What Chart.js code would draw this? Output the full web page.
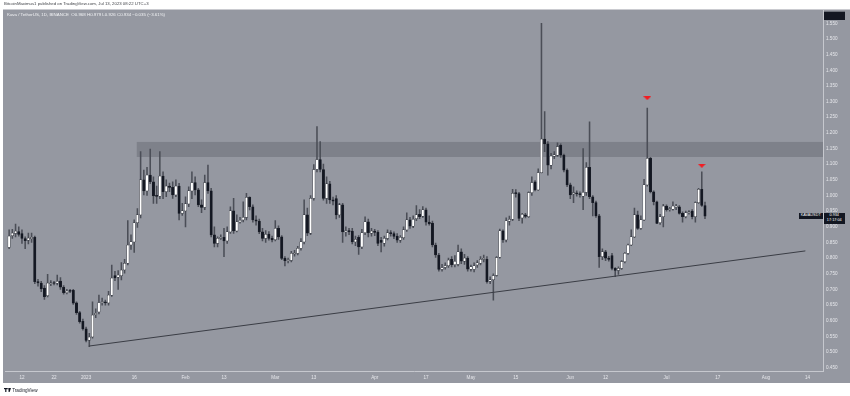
<!DOCTYPE html>
<html><head><meta charset="utf-8">
<script src="https://cdn.jsdelivr.net/npm/chart.js@4.4.0/dist/chart.umd.min.js"></script>
<style>
html,body{margin:0;padding:0;background:#fff;width:850px;height:396px;overflow:hidden;font-family:"Liberation Sans",Arial,sans-serif;}
#wrap{position:relative;width:850px;height:396px;}
#c{position:absolute;left:0;top:0;}
.t{position:absolute;white-space:nowrap;line-height:1;}
.tag{position:absolute;background:#131722;color:#fff;font-size:3.8px;text-align:center;line-height:1.15;}
</style></head><body>
<div id="wrap">
<canvas id="c" width="850" height="396"></canvas>
<div class="t" style="left:4px;top:2px;font-size:4.3px;color:#3d3f45">BitcoinMaximus1 published on TradingView.com, Jul 13, 2023 08:22 UTC+3</div>
<div class="t" style="left:7px;top:13px;font-size:4.4px;color:#f2f3f5">Kava / TetherUS, 1D, BINANCE&nbsp;&nbsp;O0.968&nbsp;H0.979&nbsp;L0.926&nbsp;C0.934&nbsp;−0.035 (−3.61%)</div>
<div class="tag" id="symTag" style="left:799px;width:23.5px;height:6.6px;">KAVAUSDT</div>
<div class="tag" id="priceTag" style="left:823.5px;width:21.5px;height:11.6px;padding-top:0.6px;box-sizing:border-box;">0.934<br>17:17:04</div>
<div class="t" style="left:4px;top:387.5px;font-size:4.6px;color:#131722">
<svg width="7" height="4" viewBox="0 0 7 4" style="vertical-align:-0.5px"><rect x="0" y="0" width="3" height="1.2" fill="#131722"/><rect x="1.2" y="0" width="1.2" height="4" fill="#131722"/><circle cx="3.7" cy="0.7" r="0.6" fill="#131722"/><path d="M4.4 0 L7 0 L5.6 4 L4.6 4 Z" fill="#131722"/></svg> TradingView</div>
</div>
<script>
// ---- data (daily candles, Kava / TetherUS, from 2022-12-08) ----
const startDate = '2022-12-08';
const opens = [
0.834,0.872,0.879,0.885,0.878,0.862,0.857,0.862,0.866,0.725,
0.720,0.704,0.680,0.718,0.721,0.720,0.727,0.707,0.690,0.697,
0.697,0.657,0.626,0.598,0.574,0.538,0.548,0.619,0.628,0.658,
0.660,0.657,0.682,0.744,0.739,0.744,0.762,0.784,0.842,0.852,
0.913,0.938,1.050,1.015,1.065,1.044,0.999,0.998,1.062,1.012,
1.030,1.026,1.002,1.030,0.943,0.951,0.973,1.015,1.041,1.018,
0.970,0.962,1.041,1.015,0.874,0.847,0.863,0.866,0.855,0.884,
0.951,0.887,0.916,0.922,0.930,0.994,0.964,0.922,0.918,0.884,
0.863,0.877,0.863,0.859,0.895,0.868,0.799,0.792,0.793,0.813,
0.815,0.831,0.852,0.938,0.880,0.991,1.083,1.115,1.083,0.991,
1.037,0.986,0.990,0.938,0.970,0.884,0.888,0.886,0.852,0.866,
0.836,0.881,0.916,0.880,0.886,0.882,0.857,0.848,0.863,0.881,
0.878,0.870,0.857,0.865,0.890,0.922,0.902,0.926,0.940,0.934,
0.954,0.915,0.912,0.842,0.810,0.764,0.770,0.776,0.796,0.779,
0.780,0.820,0.790,0.800,0.765,0.764,0.778,0.784,0.796,0.796,
0.726,0.731,0.745,0.803,0.887,0.858,0.918,0.924,1.007,1.006,
0.928,0.938,0.932,1.009,1.044,1.018,1.073,1.180,1.165,1.097,
1.126,1.129,1.160,1.129,1.081,1.034,1.005,1.008,1.005,0.998,
1.010,1.090,0.996,0.977,0.935,0.805,0.820,0.800,0.808,0.767,
0.761,0.767,0.789,0.815,0.842,0.868,0.938,0.895,0.922,1.034,
1.119,1.012,0.980,0.913,0.932,0.966,0.955,0.956,0.962,0.964,
0.943,0.932,0.945,0.950,0.932,0.977,1.020,0.968];
const highs = [
0.890,0.892,0.909,0.900,0.890,0.868,0.880,0.880,0.870,0.732,
0.726,0.712,0.748,0.728,0.726,0.746,0.738,0.712,0.700,0.700,
0.700,0.660,0.630,0.605,0.580,0.560,0.660,0.638,0.682,0.672,
0.666,0.694,0.778,0.758,0.760,0.786,0.796,0.920,0.874,0.922,
0.958,1.140,1.081,1.090,1.148,1.060,1.030,1.140,1.076,1.050,
1.040,1.044,1.050,1.039,0.975,0.996,1.028,1.076,1.060,1.023,
0.986,1.065,1.097,1.023,0.900,0.868,0.874,0.895,0.900,0.964,
0.991,0.938,0.930,0.980,1.007,0.996,0.970,0.935,0.925,0.895,
0.888,0.885,0.870,0.920,0.903,0.872,0.805,0.800,0.822,0.825,
0.838,0.862,0.986,0.960,1.000,1.099,1.220,1.172,1.100,1.060,
1.045,0.995,1.000,0.975,0.975,0.900,0.895,0.895,0.870,0.872,
0.892,0.932,0.925,0.895,0.892,0.888,0.866,0.870,0.890,0.888,
0.884,0.878,0.872,0.900,0.945,0.930,0.935,0.968,0.955,0.965,
0.960,0.935,0.918,0.848,0.815,0.780,0.785,0.800,0.805,0.808,
0.842,0.830,0.812,0.805,0.778,0.785,0.792,0.805,0.810,0.805,
0.740,0.750,0.805,0.893,0.890,0.929,0.934,1.020,1.019,1.010,
0.943,0.943,1.012,1.060,1.048,1.085,1.550,1.268,1.172,1.135,
1.140,1.168,1.165,1.132,1.085,1.040,1.028,1.015,1.012,1.150,
1.105,1.235,1.000,0.982,0.940,0.830,0.825,0.806,0.815,0.770,
0.772,0.792,0.818,0.845,0.890,0.960,0.950,0.935,1.052,1.279,
1.122,1.015,0.982,0.940,0.972,0.970,0.962,0.980,0.972,0.968,
0.948,0.950,0.952,0.955,0.980,1.023,1.076,0.979];
const lows = [
0.830,0.863,0.868,0.870,0.847,0.830,0.845,0.850,0.718,0.710,
0.693,0.668,0.676,0.712,0.714,0.714,0.700,0.685,0.686,0.690,
0.652,0.620,0.592,0.570,0.532,0.517,0.544,0.610,0.622,0.650,
0.650,0.650,0.678,0.728,0.700,0.730,0.752,0.778,0.828,0.818,
0.898,0.928,1.002,1.000,1.038,0.975,0.975,0.990,0.990,0.996,
1.012,0.991,0.996,0.922,0.936,0.900,0.964,0.990,1.002,0.964,
0.945,0.955,1.007,0.868,0.836,0.836,0.860,0.805,0.847,0.879,
0.879,0.884,0.912,0.916,0.922,0.954,0.915,0.905,0.878,0.855,
0.850,0.857,0.852,0.855,0.860,0.795,0.775,0.785,0.788,0.806,
0.810,0.825,0.845,0.872,0.875,0.985,1.075,1.075,0.985,0.975,
0.975,0.970,0.925,0.930,0.850,0.870,0.875,0.845,0.840,0.812,
0.830,0.875,0.868,0.870,0.872,0.840,0.820,0.838,0.858,0.870,
0.862,0.850,0.850,0.860,0.885,0.895,0.897,0.920,0.926,0.930,
0.905,0.905,0.836,0.802,0.758,0.758,0.765,0.770,0.772,0.772,
0.775,0.782,0.780,0.758,0.758,0.756,0.770,0.778,0.788,0.720,
0.718,0.666,0.742,0.800,0.850,0.852,0.905,0.920,0.995,0.920,
0.912,0.928,0.930,1.000,1.015,1.016,1.072,1.140,1.065,1.085,
1.118,1.125,1.122,1.075,1.028,0.990,0.977,0.998,0.995,0.955,
1.000,0.990,0.935,0.930,0.770,0.795,0.792,0.790,0.762,0.741,
0.748,0.764,0.785,0.812,0.840,0.865,0.892,0.892,0.920,1.030,
1.008,0.970,0.910,0.908,0.900,0.950,0.950,0.953,0.955,0.940,
0.915,0.928,0.940,0.925,0.915,0.975,0.965,0.926];
const closes = [
0.870,0.880,0.886,0.876,0.863,0.856,0.864,0.866,0.725,0.721,
0.702,0.677,0.720,0.721,0.719,0.726,0.707,0.690,0.695,0.694,
0.656,0.626,0.597,0.574,0.537,0.548,0.618,0.624,0.658,0.660,
0.657,0.682,0.736,0.737,0.746,0.762,0.783,0.842,0.852,0.913,
0.938,1.050,1.015,1.065,1.044,0.999,0.997,1.062,1.012,1.030,
1.026,1.002,1.030,0.943,0.951,0.973,1.015,1.041,1.018,0.970,
0.962,1.041,1.015,0.874,0.847,0.863,0.866,0.855,0.884,0.951,
0.887,0.916,0.921,0.930,0.994,0.964,0.922,0.918,0.884,0.863,
0.876,0.863,0.858,0.895,0.868,0.799,0.792,0.795,0.815,0.816,
0.831,0.852,0.938,0.880,0.991,1.083,1.115,1.083,0.991,1.037,
0.986,0.982,0.938,0.970,0.884,0.888,0.884,0.852,0.860,0.836,
0.881,0.916,0.881,0.886,0.882,0.847,0.850,0.863,0.881,0.878,
0.869,0.857,0.866,0.890,0.922,0.902,0.924,0.938,0.932,0.954,
0.915,0.910,0.842,0.810,0.764,0.770,0.776,0.794,0.779,0.790,
0.820,0.790,0.800,0.765,0.772,0.775,0.785,0.796,0.798,0.725,
0.731,0.744,0.802,0.887,0.858,0.919,0.924,1.007,1.006,0.927,
0.940,0.933,1.009,1.041,1.018,1.073,1.180,1.165,1.097,1.126,
1.130,1.156,1.129,1.081,1.034,1.002,1.009,1.005,1.003,1.010,
1.090,0.996,0.977,0.935,0.805,0.820,0.800,0.796,0.767,0.761,
0.767,0.789,0.815,0.842,0.868,0.938,0.895,0.922,1.034,1.119,
1.012,0.980,0.911,0.932,0.966,0.955,0.958,0.966,0.966,0.943,
0.932,0.945,0.948,0.932,0.977,1.020,0.968,0.934];

// x-axis tick labels (candle index counted from startDate)
const tickIdx    = [4,14,24,39,55,67,83,95,114,130,144,158,175,186,205,221,236,249];
const tickLabels = ['12','22','2023','16','Feb','13','Mar','13','Apr','17','May','15','Jun','12','Jul','17','Aug','14'];
// price axis tick labels
const yTicks = [0.45,0.50,0.55,0.60,0.65,0.70,0.75,0.80,0.85,0.90,0.95,1.00,1.05,1.10,1.15,1.20,1.25,1.30,1.35,1.40,1.45,1.50,1.55];
// drawings
const zoneRange = [1.123, 1.171];
const zoneStartIdx = 39.8;
const trendX = [24.84, 248.3];
const trendY = [0.519, 0.823];
const signalX = [199, 216];
const signalY = [1.311, 1.095];
const lastClose = closes[closes.length-1];

// ---- build ----
const bodies = opens.map((o,i)=>({x:i, y:[o, closes[i]]}));
const wicks  = highs.map((h,i)=>({x:i, y:[lows[i], h]}));
const bodyColors = opens.map((o,i)=> closes[i] >= o ? '#ffffff' : '#131722');

const tri = document.createElement('canvas');
tri.width = 8; tri.height = 4;
{const g = tri.getContext('2d'); g.fillStyle = '#f21c22'; g.beginPath(); g.moveTo(0,0); g.lineTo(8,0); g.lineTo(4,4); g.closePath(); g.fill();}

const BG = '#9598a1';
const framePlugin = {
  id:'frame',
  beforeDraw(chart){
    const c = chart.ctx; c.save();
    c.fillStyle = BG; c.fillRect(3, 9.5, 847, 373.5);
    c.restore();
  },
  beforeDatasetsDraw(chart){
    const c = chart.ctx, xs = chart.scales.x, ys = chart.scales.y, a = chart.chartArea;
    const x1 = xs.getPixelForValue(zoneStartIdx);
    const y1 = ys.getPixelForValue(zoneRange[1]);
    const y2 = ys.getPixelForValue(zoneRange[0]);
    c.save(); c.fillStyle = 'rgba(55,58,68,0.24)';
    c.fillRect(x1, y1, a.right - x1, y2 - y1);
    c.restore();
  },
  afterDraw(chart){
    const c = chart.ctx; c.save();
    c.fillStyle = '#131722'; c.fillRect(824, 11.7, 21, 8.3);
    c.restore();
  }
};

const fontSpec = {size:4.6, family:'"Liberation Sans", Arial, sans-serif'};
const chart = new Chart(document.getElementById('c'), {
  type:'bar',
  data:{datasets:[
    {type:'line', data: trendX.map((x,i)=>({x, y:trendY[i]})), borderColor:'#3a3d45', borderWidth:1, pointRadius:0, order:0},
    {type:'scatter', data: signalX.map((x,i)=>({x, y:signalY[i]})), pointStyle: tri, pointRadius:4, order:0},
    {type:'bar', data: bodies, backgroundColor: bodyColors, borderColor:'#1f222b', borderWidth:0.5, borderSkipped:false,
     barThickness:2.4, grouped:false, minBarLength:1, order:1},
    {type:'bar', data: wicks, backgroundColor:'#4b4e57', barThickness:0.9, grouped:false, order:2}
  ]},
  options:{
    responsive:false, animation:false, devicePixelRatio:1,
    layout:{padding:{top:10, left:3, right:0, bottom:13}},
    plugins:{legend:{display:false}, tooltip:{enabled:false}},
    scales:{
      x:{type:'linear', min:-1.29, max:253.8, offset:false,
         grid:{display:false, drawTicks:false},
         border:{display:true, color:'#c6c8ce', width:1},
         afterBuildTicks:s=>{ s.ticks = tickIdx.map(v=>({value:v})); },
         afterFit:s=>{ s.height = 11.3; },
         ticks:{autoSkip:false, maxRotation:0, padding:3, font:fontSpec, color:'#e6e7eb',
                callback:(v,i)=>tickLabels[i]}
      },
      y:{position:'right', min:0.4372, max:1.5925, beginAtZero:false,
         grid:{display:false, drawTicks:false},
         border:{display:true, color:'#c6c8ce', width:1},
         afterBuildTicks:s=>{ s.ticks = yTicks.map(v=>({value:v})); },
         afterFit:s=>{ s.width = 27; },
         ticks:{padding:3, font:fontSpec, color:'#e6e7eb', callback:v=>Number(v).toFixed(3)}
      }
    }
  },
  plugins:[framePlugin]
});

const py = chart.scales.y.getPixelForValue(lastClose);
document.getElementById('symTag').style.top = (py - 3.3) + 'px';
document.getElementById('priceTag').style.top = (py - 3.3) + 'px';
</script>
</body></html>
